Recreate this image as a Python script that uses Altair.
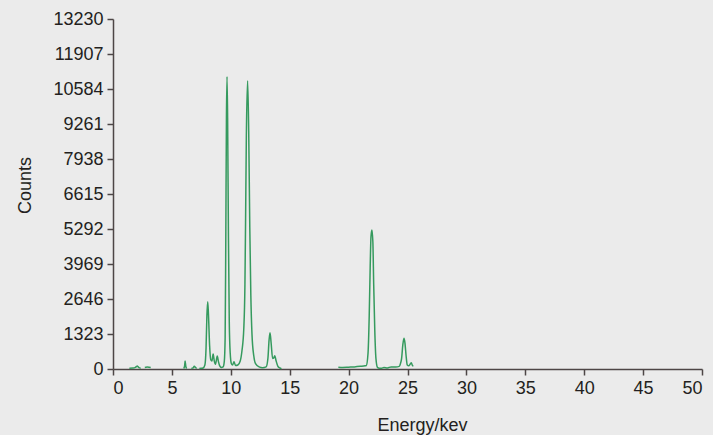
import altair as alt
import pandas as pd

# Spectrum, split into the visible drawn pieces
seg_ids = ["a", "b", "c", "d", "e", "f"]
energies = [
    [1.39, 1.7, 1.9, 2.0, 2.06, 2.12, 2.2, 2.35],
    [2.7, 2.9, 3.05, 3.2],
    [6.0, 6.08, 6.12, 6.18, 6.25],
    [6.65, 6.8, 6.9, 7.0, 7.1],
    [7.33, 7.5, 7.65, 7.8, 7.9, 7.97, 8.04, 8.1, 8.2, 8.3, 8.4, 8.5, 8.6, 8.7,
     8.85, 8.95, 9.05, 9.2, 9.35, 9.45, 9.52, 9.57, 9.63, 9.68, 9.73, 9.8,
     9.87, 9.95, 10.05, 10.15, 10.27, 10.4, 10.6, 10.8, 10.95, 11.1, 11.2,
     11.25, 11.32, 11.43, 11.52, 11.61, 11.7, 11.8, 11.95, 12.1, 12.4, 12.7,
     13.0, 13.15, 13.25, 13.33, 13.42, 13.55, 13.65, 13.73, 13.85, 14.0,
     14.15, 14.3],
    [19.13, 19.5, 20.0, 20.5, 21.0, 21.4, 21.5, 21.65, 21.75, 21.83, 21.9,
     21.98, 22.06, 22.13, 22.22, 22.32, 22.45, 22.6, 22.8, 23.0, 23.3, 23.6,
     24.0, 24.3, 24.4, 24.5, 24.6, 24.7, 24.78, 24.88, 24.98, 25.1, 25.25,
     25.32, 25.42, 25.5],
]
counts = [
    [30, 35, 60, 100, 113, 90, 50, 30],
    [60, 75, 70, 60],
    [20, 120, 300, 100, 20],
    [20, 40, 100, 60, 20],
    [20, 30, 40, 150, 800, 2000, 2545, 2100, 900, 350, 300, 567, 300, 180,
     490, 280, 130, 60, 80, 300, 1200, 4500, 9500, 11050, 9500, 5000,
     1800, 600, 200, 150, 276, 130, 150, 300, 700, 1500, 3200,
     5400, 8800, 10900, 9000, 5400, 2800, 1300, 500, 200, 80, 50,
     80, 400, 1100, 1372, 1000, 400, 420, 503, 300, 100,
     40, 10],
    [70, 60, 70, 80, 100, 120, 130, 600, 2000, 3800, 5000,
     5254, 4800, 3200, 1500, 400, 60, 30, 30, 60, 40, 80,
     80, 100, 200, 400, 900, 1160, 1000, 500, 150, 120, 200,
     240, 130, 110],
]
y_ticks = [0, 1323, 2646, 3969, 5292, 6615, 7938, 9261, 10584, 11907, 13230]
x_ticks = [0, 5, 10, 15, 20, 25, 30, 35, 40, 45, 50]

rows = []
for sid, es, cs in zip(seg_ids, energies, counts):
    for e, c in zip(es, cs):
        rows.append({"seg": sid, "energy": e, "counts": c})
df = pd.DataFrame(rows)

FONT = "Liberation Sans"
TXT = "#231f20"
AX = "#4d4646"

chart = (
    alt.Chart(df)
    .mark_line(color="#359a5e", strokeWidth=1.5, interpolate="monotone")
    .encode(
        x=alt.X(
            "energy:Q",
            scale=alt.Scale(domain=[0, 50], nice=False),
            axis=alt.Axis(
                title="Energy/kev",
                values=x_ticks,
                format="d",
                grid=False,
                tickSize=6,
                labelPadding=4,
                titleX=309,
                titleY=56,
                titleBaseline="middle",
                titleAlign="center",
            ),
        ),
        y=alt.Y(
            "counts:Q",
            scale=alt.Scale(domain=[0, 13230], nice=False),
            axis=alt.Axis(
                title="Counts",
                values=y_ticks,
                format="d",
                grid=False,
                tickSize=6,
                labelPadding=4,
                titleX=-88,
                titleY=166,
                titleBaseline="middle",
                titleAlign="center",
                titleAngle=270,
            ),
        ),
        detail="seg:N",
        order="energy:Q",
    )
    .properties(
        width=589,
        height=350,
        autosize=alt.AutoSizeParams(type="none"),
        padding={"left": 113, "top": 19, "right": 11, "bottom": 66},
        background="#ebebeb",
    )
    .configure_view(stroke=None, fill="#ebebeb")
    .configure_axis(
        domainColor=AX,
        domainWidth=1.5,
        tickColor=AX,
        tickWidth=1.5,
        labelFont=FONT,
        labelFontSize=18,
        labelColor=TXT,
        titleFont=FONT,
        titleFontSize=18,
        titleFontWeight="normal",
        titleColor=TXT,
    )
)

chart.save("out.html", embed_options={"renderer": "svg", "actions": False})
